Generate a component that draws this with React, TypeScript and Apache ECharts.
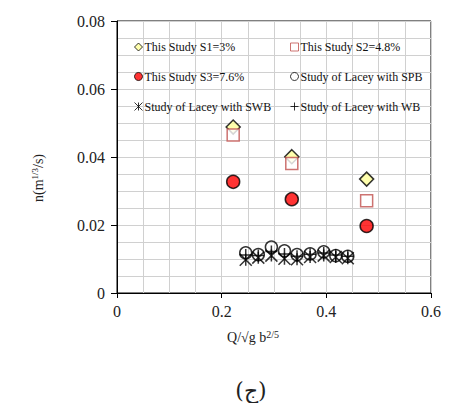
import React, { useEffect, useRef } from "react";
import * as echarts from "echarts";

const studyX = [0.222, 0.334, 0.477];
const s1Y = [0.0488, 0.0401, 0.0335];
const s2Y = [0.0465, 0.0381, 0.0271];
const s3Y = [0.0327, 0.0276, 0.0197];

const laceyX = [0.246, 0.27, 0.295, 0.32, 0.344, 0.369, 0.395, 0.418, 0.441];
const spbY = [0.0118, 0.0113, 0.0135, 0.0124, 0.0113, 0.0115, 0.0121, 0.011, 0.0108];
const swbY = [0.0098, 0.0104, 0.011, 0.0101, 0.0099, 0.0106, 0.011, 0.0106, 0.0102];
const wbY = [0.0112, 0.011, 0.0122, 0.0115, 0.0108, 0.0114, 0.0118, 0.0112, 0.0108];

const names = [
  "This Study S1=3%",
  "This Study S2=4.8%",
  "This Study S3=7.6%",
  "Study of Lacey with SPB",
  "Study of Lacey with SWB",
  "Study of Lacey with WB",
];

const pair = (xs: number[], ys: number[]) => xs.map((x, i) => [x, ys[i]]);

const SERIF = "'Liberation Serif', 'Times New Roman', Times, serif";
const STAR = "path://M0,0L10,10M10,0L0,10M5,0L5,10";
const PLUS = "path://M0,5L10,5M5,0L5,10";

const legendStyle = {
  orient: "vertical",
  top: 28,
  itemGap: 17.5,
  itemWidth: 8,
  itemHeight: 8,
  itemStyle: { borderWidth: 1 },
  textStyle: { fontFamily: SERIF, fontSize: 12, color: "#111", padding: [0, 0, 0, -3] },
};

export default function App() {
  const ref = useRef<HTMLDivElement>(null);
  useEffect(() => {
    const chart = echarts.init(ref.current!, null, { renderer: "svg" });
    chart.setOption({
      animation: false,
      grid: {
        left: 109,
        right: 8,
        top: 13,
        bottom: 110,
        show: true,
        borderColor: "#000",
        borderWidth: 1,
        backgroundColor: "transparent",
      },
      xAxis: {
        type: "value",
        min: 0,
        max: 0.6,
        interval: 0.2,
        axisLine: { show: true, onZero: false, lineStyle: { color: "#000", width: 1 } },
        axisTick: { show: true, length: 5, lineStyle: { color: "#000" } },
        axisLabel: {
          fontFamily: SERIF,
          fontSize: 16,
          color: "#222",
          margin: 10,
          formatter: (v: number) => (v === 0 ? "0" : String(+v.toFixed(1))),
        },
        splitLine: { show: true, lineStyle: { color: "#d0d0d0", width: 1 } },
        minorTick: { show: false, splitNumber: 4 },
        minorSplitLine: { show: true, lineStyle: { color: "#d0d0d0", width: 1 } },
      },
      yAxis: {
        type: "value",
        min: 0,
        max: 0.08,
        interval: 0.02,
        axisLine: { show: true, onZero: false, lineStyle: { color: "#000", width: 1 } },
        axisTick: { show: true, length: 6, lineStyle: { color: "#000" } },
        axisLabel: {
          fontFamily: SERIF,
          fontSize: 16,
          color: "#222",
          margin: 12,
          formatter: (v: number) => (v === 0 ? "0" : v.toFixed(2)),
        },
        splitLine: { show: true, lineStyle: { color: "#d0d0d0", width: 1 } },
        minorTick: { show: false, splitNumber: 4 },
        minorSplitLine: { show: true, lineStyle: { color: "#d0d0d0", width: 1 } },
      },
      legend: [
        { ...legendStyle, data: [names[0], names[2], names[4]], left: 119 },
        { ...legendStyle, data: [names[1], names[3], names[5]], left: 275 },
      ],
      graphic: [
        {
          type: "text",
          x: 30,
          y: 170,
          rotation: Math.PI / 2,
          style: {
            text: "n(m{s|1/3}/s)",
            fontFamily: SERIF,
            fontSize: 14,
            fill: "#222",
            align: "center",
            verticalAlign: "middle",
            rich: { s: { fontFamily: SERIF, fontSize: 9, fill: "#222", verticalAlign: "top", padding: [0, 0, 7, 0] } },
          },
        },
        {
          type: "text",
          x: 245,
          y: 329,
          style: {
            text: "Q/√g b{s|2/5}",
            fontFamily: SERIF,
            fontSize: 14,
            fill: "#222",
            align: "center",
            verticalAlign: "middle",
            rich: { s: { fontFamily: SERIF, fontSize: 10, fill: "#222", verticalAlign: "top", padding: [0, 0, 6, 0] } },
          },
        },
        {
          type: "text",
          x: 243,
          y: 382,
          style: {
            text: "(ج)",
            fontFamily: "'DejaVu Serif', 'DejaVu Sans', serif",
            fontSize: 22,
            fill: "#222",
            align: "center",
            verticalAlign: "middle",
          },
        },
      ],
      series: [
        {
          name: names[0],
          type: "scatter",
          symbol: "diamond",
          symbolSize: 14,
          data: pair(studyX, s1Y),
          itemStyle: { color: "#FFFF99", borderColor: "#000", borderWidth: 1.5 },
        },
        {
          name: names[1],
          type: "scatter",
          symbol: "rect",
          symbolSize: 12,
          data: pair(studyX, s2Y),
          itemStyle: { color: "#fff", borderColor: "#C0504D", borderWidth: 1.5 },
        },
        {
          name: names[2],
          type: "scatter",
          symbol: "circle",
          symbolSize: 13,
          data: pair(studyX, s3Y),
          itemStyle: { color: "#FF0000", borderColor: "#000", borderWidth: 1.5 },
        },
        {
          name: names[3],
          type: "scatter",
          symbol: "circle",
          symbolSize: 12,
          data: pair(laceyX, spbY),
          itemStyle: { color: "rgba(255,255,255,0)", borderColor: "#000", borderWidth: 1.5 },
        },
        {
          name: names[4],
          type: "scatter",
          symbol: STAR,
          symbolSize: 12,
          data: pair(laceyX, swbY),
          itemStyle: { color: "none", borderColor: "#000", borderWidth: 1.5 },
        },
        {
          name: names[5],
          type: "scatter",
          symbol: PLUS,
          symbolSize: 12,
          data: pair(laceyX, wbY),
          itemStyle: { color: "none", borderColor: "#000", borderWidth: 1.5 },
        },
      ],
    });
    return () => chart.dispose();
  }, []);
  return <div ref={ref} style={{ width: 436, height: 395 }} />;
}
